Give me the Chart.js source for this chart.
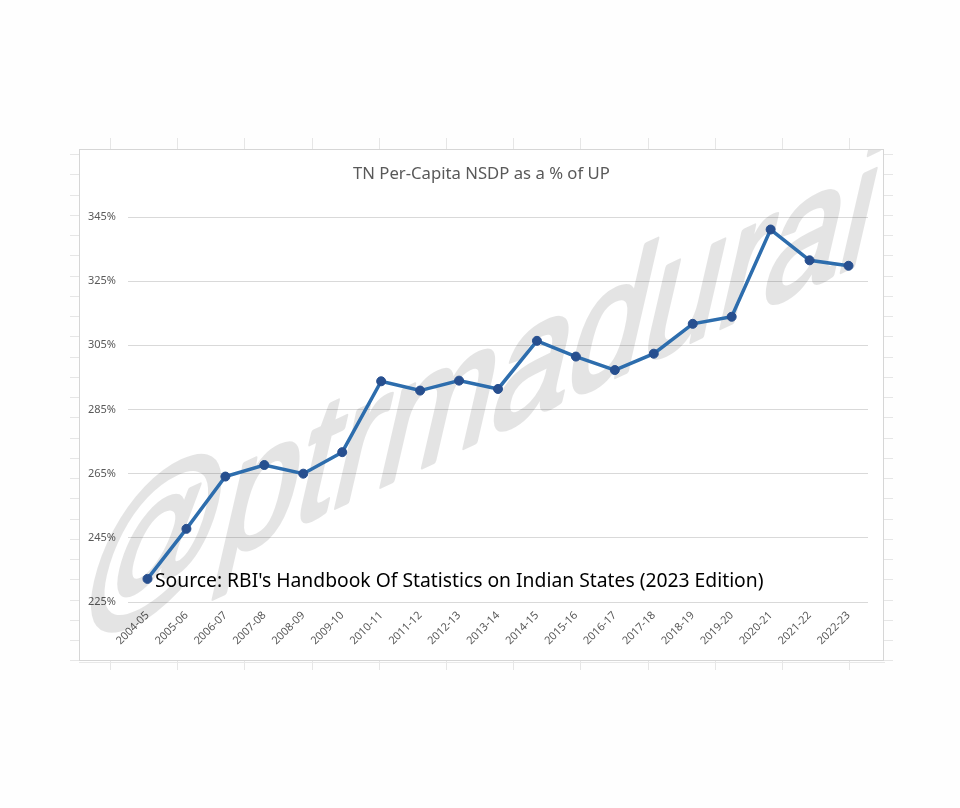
<!DOCTYPE html>
<html>
<head>
<meta charset="utf-8">
<title>TN Per-Capita NSDP as a % of UP</title>
<script src="https://cdn.jsdelivr.net/npm/chart.js@4"></script>
<style>
  html, body { margin: 0; padding: 0; background: #fefefe; }
  #chart { display: block; }
</style>
</head>
<body>
<canvas id="chart" width="960" height="808"></canvas>
<script>
// Data
const seasons = ['2004-05', '2005-06', '2006-07', '2007-08', '2008-09', '2009-10', '2010-11',
  '2011-12', '2012-13', '2013-14', '2014-15', '2015-16', '2016-17', '2017-18', '2018-19',
  '2019-20', '2020-21', '2021-22', '2022-23'];
const tnPctOfUP = [232.2, 247.8, 264.1, 267.7, 265.0, 271.7, 293.8, 290.9, 294.0, 291.4,
  306.4, 301.5, 297.3, 302.4, 311.7, 313.9, 341.1, 331.5, 329.8];
const yTicks = [225, 245, 265, 285, 305, 325, 345];

const chartTitle = 'TN Per-Capita NSDP as a % of UP';
const sourceNote = "Source: RBI's Handbook Of Statistics on Indian States (2023 Edition)";
const watermark = '@ptrmadurai';

const GREY_TEXT = '#595959';
const GRID = '#d9d9d9';
const BOX = { x: 79, y: 149, w: 805, h: 512 };

// shrink/grow a font so a string fills a given width
function fitFont(ctx, text, family, weight, width) {
  ctx.font = `${weight} 100px ${family}`;
  const size = 100 * width / ctx.measureText(text).width;
  return `${weight} ${size.toFixed(2)}px ${family}`;
}

// Excel sheet stubs, chart frame and title
const frame = {
  id: 'frame',
  beforeDraw(chart) {
    const ctx = chart.ctx;
    ctx.save();
    ctx.fillStyle = '#fefefe';
    ctx.fillRect(0, 0, chart.width, chart.height);

    ctx.strokeStyle = '#e6e6e6';
    ctx.lineWidth = 1;
    ctx.beginPath();
    for (let x = 110; x < 884; x += 67.2) {
      const px = Math.round(x) + 0.5;
      ctx.moveTo(px, 138); ctx.lineTo(px, 150);
      ctx.moveTo(px, 661); ctx.lineTo(px, 670);
    }
    for (let y = 154; y < 662; y += 20.25) {
      const py = Math.round(y) + 0.5;
      ctx.moveTo(70, py); ctx.lineTo(79, py);
      ctx.moveTo(884, py); ctx.lineTo(893, py);
    }
    ctx.stroke();

    ctx.fillStyle = '#ffffff';
    ctx.fillRect(BOX.x, BOX.y, BOX.w, BOX.h);
    ctx.strokeStyle = '#d6d6d6';
    ctx.strokeRect(BOX.x + 0.5, BOX.y + 0.5, BOX.w - 1, BOX.h - 1);
    ctx.strokeStyle = '#e8e8e8';
    ctx.beginPath(); ctx.moveTo(79, 662.5); ctx.lineTo(885, 662.5); ctx.stroke();

    ctx.fillStyle = GREY_TEXT;
    ctx.font = fitFont(ctx, chartTitle, '"Noto Sans"', 400, 257);
    ctx.textAlign = 'left';
    ctx.textBaseline = 'alphabetic';
    ctx.fillText(chartTitle, 353, 179);
    ctx.restore();
  }
};

// slanted grey handle, clipped to the chart frame.
// drawn solid on a scratch canvas first so the thickening stroke doesn't double up the alpha
const stamp = {
  id: 'stamp',
  beforeDatasetsDraw(chart) {
    const off = document.createElement('canvas');
    off.width = chart.width; off.height = chart.height;
    const o = off.getContext('2d');
    const base = 25 * Math.PI / 180, lean = 13 * Math.PI / 180, tall = 1.25;
    o.transform(Math.cos(base), -Math.sin(base), -Math.sin(lean) * tall, Math.cos(lean) * tall, 75, 629);
    o.font = '150px "Liberation Sans"';
    o.textAlign = 'left';
    o.textBaseline = 'alphabetic';
    o.fillStyle = '#000'; o.strokeStyle = '#000';
    o.lineWidth = 4; o.lineJoin = 'round';
    o.fillText(watermark, 0, 0);
    o.strokeText(watermark, 0, 0);

    const ctx = chart.ctx;
    ctx.save();
    ctx.beginPath();
    ctx.rect(BOX.x + 1, BOX.y + 1, BOX.w - 2, BOX.h - 2);
    ctx.clip();
    ctx.globalAlpha = 0.1;
    ctx.drawImage(off, 0, 0);
    ctx.restore();
  }
};

const source = {
  id: 'source',
  afterDatasetsDraw(chart) {
    const ctx = chart.ctx;
    ctx.save();
    ctx.fillStyle = '#000000';
    ctx.font = fitFont(ctx, sourceNote, '"Noto Sans"', 400, 609);
    ctx.textAlign = 'left';
    ctx.textBaseline = 'alphabetic';
    ctx.fillText(sourceNote, 155, 587);
    ctx.restore();
  }
};

new Chart(document.getElementById('chart'), {
  type: 'line',
  data: {
    labels: seasons,
    datasets: [{
      label: chartTitle,
      data: tnPctOfUP,
      borderColor: '#2d6dad',
      borderWidth: 3.5,
      pointBackgroundColor: '#274f8f',
      pointBorderColor: '#274f8f',
      pointRadius: 4.5,
      pointBorderWidth: 1,
      tension: 0,
      fill: false
    }]
  },
  options: {
    responsive: false,
    animation: false,
    devicePixelRatio: 1,
    layout: { padding: { top: 217, left: 80, right: 92, bottom: 146 } },
    plugins: { legend: { display: false }, title: { display: false }, tooltip: { enabled: false } },
    scales: {
      x: {
        offset: true,
        grid: { display: false, drawTicks: false },
        border: { display: false },
        afterFit: s => { s.height = 60; },
        ticks: {
          autoSkip: false, minRotation: 45, maxRotation: 45, padding: 7,
          color: GREY_TEXT, font: { family: '"Noto Sans"', size: 11 }
        }
      },
      y: {
        min: 225, max: 345,
        afterBuildTicks: s => { s.ticks = yTicks.map(v => ({ value: v })); },
        afterFit: s => { s.width = 48; },
        grid: { color: GRID, lineWidth: 1, drawTicks: false },
        border: { display: false },
        ticks: {
          padding: 12, color: GREY_TEXT, font: { family: '"Noto Sans"', size: 11 },
          callback: v => v + '%'
        }
      }
    }
  },
  plugins: [frame, stamp, source]
});
</script>
</body>
</html>
